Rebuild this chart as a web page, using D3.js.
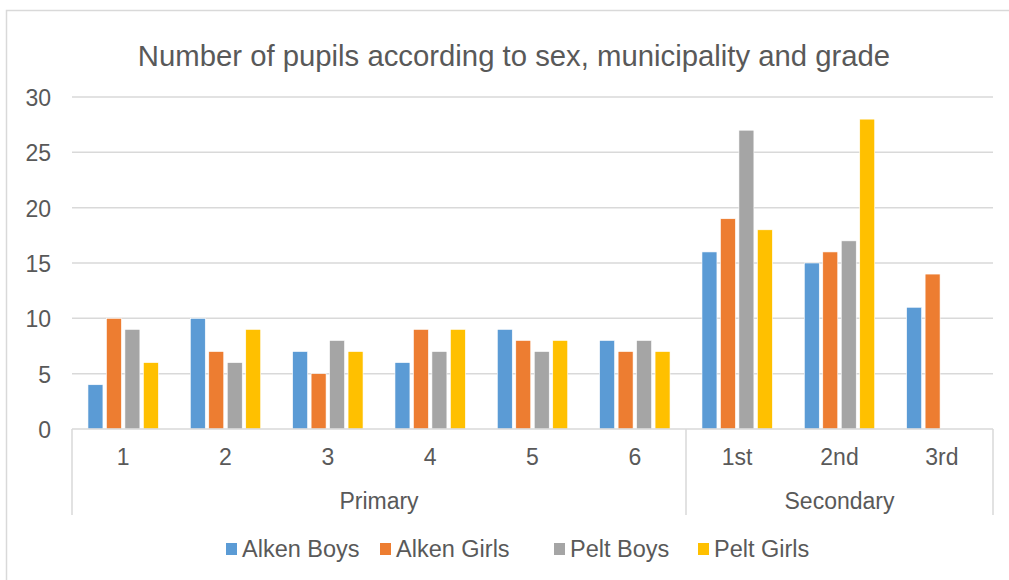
<!DOCTYPE html>
<html>
<head>
<meta charset="utf-8">
<script src="https://cdn.jsdelivr.net/npm/d3@7"></script>
<style>
  html, body { margin: 0; padding: 0; background: #fff; }
  svg { display: block; font-family: "Liberation Sans", Arial, sans-serif; }
</style>
</head>
<body>
<svg id="chart" width="1009" height="580"></svg>
<script>
// Grades (inner level of the category axis) and their school level (outer level)
const grades = ["1", "2", "3", "4", "5", "6", "1st", "2nd", "3rd"];
const levels = ["Primary", "Primary", "Primary", "Primary", "Primary", "Primary", "Secondary", "Secondary", "Secondary"];
const seriesNames = ["Alken Boys", "Alken Girls", "Pelt Boys", "Pelt Girls"];
const alkenBoys  = [4, 10, 7, 6, 9, 8, 16, 15, 11];
const alkenGirls = [10, 7, 5, 9, 8, 7, 19, 16, 14];
const peltBoys   = [9, 6, 8, 7, 7, 8, 27, 17, null];
const peltGirls  = [6, 9, 7, 9, 8, 7, 18, 28, null];
const yTicks = [0, 5, 10, 15, 20, 25, 30];
const colors = ["#5b9bd5", "#ed7d31", "#a5a5a5", "#ffc000"];
const titleText = "Number of pupils according to sex, municipality and grade";

const seriesValues = [alkenBoys, alkenGirls, peltBoys, peltGirls];

const svg = d3.select("#chart");
const textColor = "#595959";
const gridColor = "#d9d9d9";

// Chart frame
svg.append("rect")
  .attr("x", 6.5).attr("y", 10.5)
  .attr("width", 1100).attr("height", 700)
  .attr("fill", "#fff").attr("stroke", gridColor).attr("stroke-width", 1.5);

const plot = { left: 72, right: 993, top: 97, bottom: 429 };

const x = d3.scaleBand().domain(grades).range([plot.left, plot.right]).padding(0);
const xs = d3.scaleBand().domain(seriesNames).range([-35.2, 35.2]).paddingInner(0.19);
const y = d3.scaleLinear().domain([0, 30]).range([plot.bottom, plot.top]);

// Title
svg.append("text")
  .attr("x", 514).attr("y", 66)
  .attr("text-anchor", "middle")
  .attr("font-size", 29.3)
  .attr("fill", textColor)
  .text(titleText);

// Horizontal gridlines
svg.append("g")
  .selectAll("line")
  .data(yTicks.filter(t => t > 0))
  .join("line")
  .attr("x1", plot.left).attr("x2", plot.right)
  .attr("y1", d => y(d)).attr("y2", d => y(d))
  .attr("stroke", gridColor).attr("stroke-width", 1.5);

// Y axis labels
const yAxis = d3.axisLeft(y).tickValues(yTicks).tickSize(0).tickPadding(0);
const gy = svg.append("g").attr("transform", `translate(${plot.left - 21},0)`).call(yAxis);
gy.select(".domain").remove();
gy.selectAll("text")
  .attr("font-size", 23)
  .attr("font-family", "Liberation Sans, Arial, sans-serif")
  .attr("fill", textColor)
  .attr("dy", "0.37em");

// Bars
const rows = grades.map((g, i) => ({ grade: g, vals: seriesNames.map((s, k) => ({ s, k, v: seriesValues[k][i] })) }));
svg.append("g")
  .selectAll("g")
  .data(rows)
  .join("g")
  .attr("transform", d => `translate(${x(d.grade) + x.bandwidth() / 2},0)`)
  .selectAll("rect")
  .data(d => d.vals.filter(e => e.v != null))
  .join("rect")
  .attr("x", d => xs(d.s))
  .attr("width", xs.bandwidth())
  .attr("y", d => y(d.v))
  .attr("height", d => y(0) - y(d.v))
  .attr("fill", d => colors[d.k])
  .attr("stroke", "#fff").attr("stroke-width", 0.6);

// Category axis line
svg.append("line")
  .attr("x1", plot.left).attr("x2", plot.right)
  .attr("y1", plot.bottom).attr("y2", plot.bottom)
  .attr("stroke", gridColor).attr("stroke-width", 1.5);

// Group separators of the two-level category axis
const groups = [];
levels.forEach((lv, i) => {
  const last = groups[groups.length - 1];
  if (last && last.name === lv) last.end = grades[i];
  else groups.push({ name: lv, start: grades[i], end: grades[i] });
});
const bounds = [plot.left, ...groups.map(g => x(g.end) + x.bandwidth())];
svg.append("g")
  .selectAll("line")
  .data(bounds)
  .join("line")
  .attr("x1", d => d).attr("x2", d => d)
  .attr("y1", plot.bottom).attr("y2", 515)
  .attr("stroke", gridColor).attr("stroke-width", 1.5);

// Grade labels
svg.append("g")
  .selectAll("text")
  .data(grades)
  .join("text")
  .attr("x", d => x(d) + x.bandwidth() / 2)
  .attr("y", 465)
  .attr("text-anchor", "middle")
  .attr("font-size", 23)
  .attr("fill", textColor)
  .text(d => d);

// Level labels
svg.append("g")
  .selectAll("text")
  .data(groups)
  .join("text")
  .attr("x", d => (x(d.start) + x(d.end) + x.bandwidth()) / 2)
  .attr("y", 509)
  .attr("text-anchor", "middle")
  .attr("font-size", 23)
  .attr("fill", textColor)
  .text(d => d.name);

// Legend
const legendX = [226, 380, 554, 698];
const legend = svg.append("g")
  .selectAll("g")
  .data(seriesNames)
  .join("g")
  .attr("transform", (d, i) => `translate(${legendX[i]},0)`);
legend.append("rect")
  .attr("x", 0).attr("y", 543)
  .attr("width", 11).attr("height", 12)
  .attr("fill", (d, i) => colors[i]);
legend.append("text")
  .attr("x", 16).attr("y", 557)
  .attr("font-size", 23.5)
  .attr("fill", textColor)
  .text(d => d);
</script>
</body>
</html>
